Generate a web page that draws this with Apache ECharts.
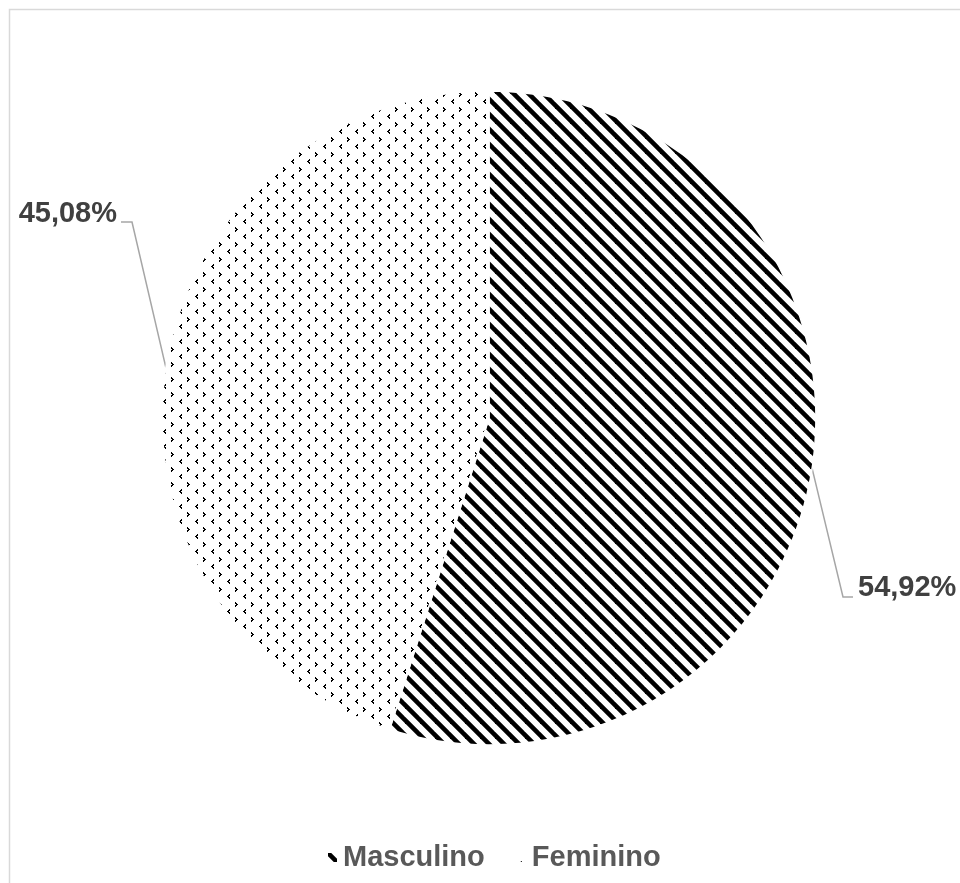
<!DOCTYPE html>
<html>
<head>
<meta charset="utf-8">
<style>
  html, body { margin: 0; padding: 0; background: #fff; }
  #chart { width: 960px; height: 883px; }
</style>
<script src="https://cdn.jsdelivr.net/npm/echarts@6/dist/echarts.min.js"></script>
</head>
<body>
<div id="chart"></div>
<script>
// data
const categories = ['Masculino', 'Feminino'];
const shares = [54.92, 45.08];

// pie geometry (px)
const cx = 489, cy = 418, R = 327;

// hand placed labels, like the excel chart (text anchor + leader bend)
const labelPlace = [
  { x: 858, y: 588, align: 'left', bend: [843, 597], end: [853, 597] },
  { x: 117, y: 214, align: 'right', bend: [132, 222], end: [121, 222] }
];

// wide downward diagonal fill
function stripeTile() {
  let c = document.createElement('canvas');
  c.width = 15; c.height = 15;
  let ctx = c.getContext('2d');
  ctx.fillStyle = '#fff';
  ctx.fillRect(0, 0, 15, 15);
  ctx.strokeStyle = '#000';
  ctx.lineWidth = 4.6;
  [-15, 0, 15].forEach(function (k) {
    ctx.beginPath();
    ctx.moveTo(k - 5, -5);
    ctx.lineTo(k + 20, 20);
    ctx.stroke();
  });
  return c;
}

// small "<" ">" marks fill
function dotTile() {
  let c = document.createElement('canvas');
  c.width = 16; c.height = 15;
  let ctx = c.getContext('2d');
  ctx.fillStyle = '#fff';
  ctx.fillRect(0, 0, 16, 15);
  ctx.fillStyle = '#000';
  // "<"
  let x = 3, y = 9;
  ctx.fillRect(x + 2, y, 1, 1);
  ctx.fillRect(x + 1, y + 1, 2, 1);
  ctx.fillRect(x, y + 2, 2, 1);
  ctx.fillRect(x + 1, y + 3, 2, 1);
  ctx.fillRect(x + 2, y + 4, 1, 1);
  // ">"
  x = 11; y = 2;
  ctx.fillRect(x, y, 1, 1);
  ctx.fillRect(x, y + 1, 2, 1);
  ctx.fillRect(x + 1, y + 2, 2, 1);
  ctx.fillRect(x, y + 3, 2, 1);
  ctx.fillRect(x, y + 4, 1, 1);
  return c;
}

const fills = [
  { image: stripeTile(), repeat: 'repeat' },
  { image: dotTile(), repeat: 'repeat' }
];

const total = shares.reduce(function (a, b) { return a + b; }, 0);

function edgePoint(i) {
  let before = 0;
  for (let k = 0; k < i; k++) before += shares[k];
  let a = (before + shares[i] / 2) / total * Math.PI * 2;
  return [cx + R * Math.sin(a), cy - R * Math.cos(a)];
}

let chart = echarts.init(document.getElementById('chart'));

let option = {
  backgroundColor: '#fff',
  animation: false,
  graphic: [{
    type: 'rect',
    shape: { x: 9.5, y: 9.5, width: 1000, height: 1000 },
    style: { fill: 'none', stroke: '#d9d9d9', lineWidth: 1.5 },
    silent: true
  }],
  legend: {
    data: categories,
    left: 321,
    top: 838,
    itemWidth: 11,
    itemHeight: 11,
    itemGap: 30,
    icon: 'rect',
    textStyle: {
      fontFamily: 'Liberation Sans, Arial, sans-serif',
      fontWeight: 'bold',
      fontSize: 29,
      color: '#595959'
    }
  },
  series: [{
    type: 'pie',
    center: [cx, cy],
    radius: R,
    startAngle: 90,
    clockwise: true,
    data: categories.map(function (n, i) {
      return { name: n, value: shares[i], itemStyle: { color: fills[i] } };
    }),
    itemStyle: { borderColor: '#fff', borderWidth: 1.5 },
    label: {
      show: true,
      position: 'outside',
      overflow: 'none',
      formatter: function (p) {
        return p.value.toFixed(2).replace('.', ',') + '%';
      },
      fontFamily: 'Liberation Sans, Arial, sans-serif',
      fontWeight: 'bold',
      fontSize: 29,
      color: '#404040'
    },
    labelLine: {
      show: true,
      lineStyle: { color: '#a6a6a6', width: 1.5 }
    },
    labelLayout: function (params) {
      let i = params.dataIndex;
      let pl = labelPlace[i];
      return {
        x: pl.x,
        y: pl.y,
        align: pl.align,
        verticalAlign: 'middle',
        labelLinePoints: [edgePoint(i), pl.bend, pl.end]
      };
    },
    emphasis: { disabled: true }
  }]
};

chart.setOption(option);
</script>
</body>
</html>
